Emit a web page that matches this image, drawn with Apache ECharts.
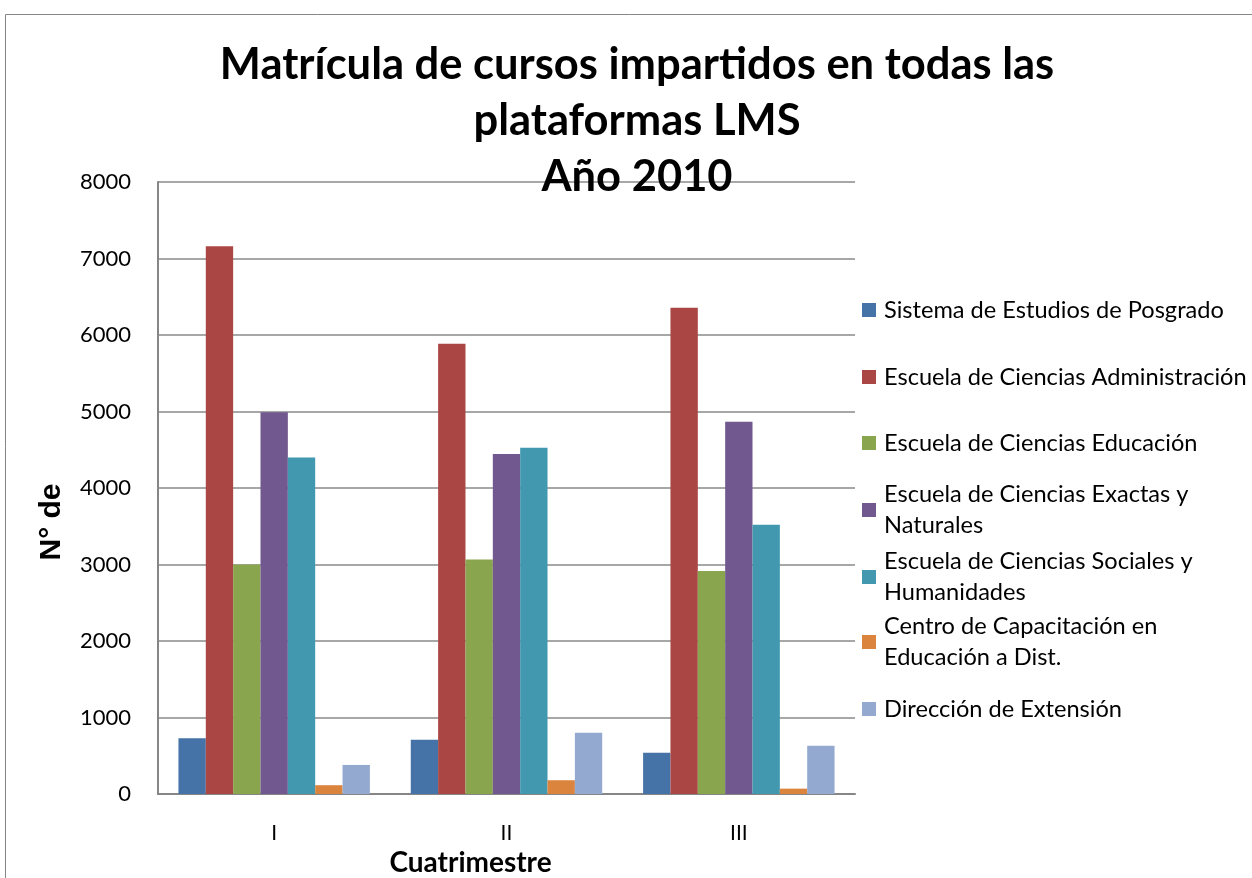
<!DOCTYPE html>
<html>
<head>
<meta charset="utf-8">
<script src="https://cdn.jsdelivr.net/npm/echarts@6/dist/echarts.min.js"></script>
<style>
  html, body { margin: 0; padding: 0; background: #fff; }
  #chart { width: 1252px; height: 878px; }
</style>
</head>
<body>
<div id="chart"></div>
<script>
  // datos
  var cuatrimestres = ['I', 'II', 'III'];
  var posgrado = [730, 710, 540];
  var administracion = [7160, 5885, 6355];
  var educacion = [3000, 3065, 2915];
  var exactas = [4990, 4445, 4865];
  var sociales = [4400, 4525, 3520];
  var capacitacion = [115, 180, 70];
  var extension = [380, 800, 630];

  var nombres = [
    'Sistema de Estudios de Posgrado',
    'Escuela de Ciencias Administración',
    'Escuela de Ciencias Educación',
    'Escuela de Ciencias Exactas y\nNaturales',
    'Escuela de Ciencias Sociales y\nHumanidades',
    'Centro de Capacitación en\nEducación a Dist.',
    'Dirección de Extensión'
  ];
  var valores = [posgrado, administracion, educacion, exactas, sociales, capacitacion, extension];
  var colores = ['#4572A7', '#AA4643', '#89A54E', '#71588F', '#4198AF', '#DB843D', '#93A9CF'];
  var centrosLeyenda = [310, 377, 443, 510, 577, 642, 709];

  var fuente = 'Lato, "Open Sans", sans-serif';

  // una leyenda por serie, para alinear el cuadro con la primera linea
  var leyendas = nombres.map(function (n, i) {
    var dosLineas = n.indexOf('\n') >= 0;
    return {
      orient: 'vertical',
      left: 862,
      top: centrosLeyenda[i] - (dosLineas ? 46.5 : 15.5),
      padding: 0,
      itemWidth: 14,
      itemHeight: 14,
      itemGap: 0,
      icon: 'rect',
      selectedMode: false,
      data: [n],
      textStyle: {
        fontFamily: fuente,
        fontSize: 23.6,
        color: '#000',
        lineHeight: 31,
        padding: dosLineas ? [31, 0, 0, 3] : [0, 0, 0, 3]
      }
    };
  });

  var series = nombres.map(function (n, i) {
    return {
      name: n,
      type: 'bar',
      data: valores[i],
      barGap: '0%',
      barCategoryGap: '17.6%',
      itemStyle: { color: colores[i] }
    };
  });

  var myChart = echarts.init(document.getElementById('chart'));
  var option = {
    backgroundColor: '#fff',
    animation: false,
    title: {
      text: 'Matrícula de cursos impartidos en todas las\nplataformas LMS\nAño 2010',
      left: 637,
      top: 37,
      textAlign: 'center',
      padding: 0,
      textStyle: {
        fontFamily: fuente,
        fontWeight: 'bold',
        fontSize: 43.5,
        lineHeight: 56,
        color: '#000'
      }
    },
    graphic: [{
      type: 'rect',
      shape: { x: 5.5, y: 14.5, width: 1300, height: 900 },
      style: { fill: 'none', stroke: '#868686', lineWidth: 1 },
      silent: true
    }],
    legend: leyendas,
    grid: { left: 158, top: 182, right: 397, bottom: 84, containLabel: false, outerBoundsMode: 'none' },
    xAxis: {
      type: 'category',
      data: cuatrimestres,
      name: 'Cuatrimestre',
      nameLocation: 'middle',
      nameGap: 51,
      nameTextStyle: {
        fontFamily: fuente,
        fontWeight: 'bold',
        fontSize: 28,
        color: '#000',
        padding: [0, 72, 0, 0]
      },
      axisLine: { lineStyle: { color: '#868686', width: 2 } },
      axisTick: { show: false },
      axisLabel: { fontFamily: fuente, fontSize: 21, color: '#000', margin: 29 }
    },
    yAxis: {
      type: 'value',
      min: 0,
      max: 8000,
      interval: 1000,
      name: 'N° de',
      nameLocation: 'middle',
      nameRotate: 90,
      nameGap: 91,
      nameTextStyle: {
        fontFamily: '"Liberation Sans", Arial, sans-serif',
        fontWeight: 'bold',
        fontSize: 30,
        color: '#000',
        padding: [0, 68, 0, 0]
      },
      axisLine: { show: true, lineStyle: { color: '#868686', width: 2 } },
      axisTick: { show: false },
      axisLabel: {
        fontFamily: fuente,
        fontSize: 22,
        color: '#000',
        margin: 27,
        formatter: function (v) { return String(v); }
      },
      splitLine: { lineStyle: { color: '#8a8a8a', width: 1.5 } }
    },
    series: series
  };

  myChart.setOption(option);
  window.onresize = function () {
    myChart.resize();
  };
</script>
</body>
</html>
